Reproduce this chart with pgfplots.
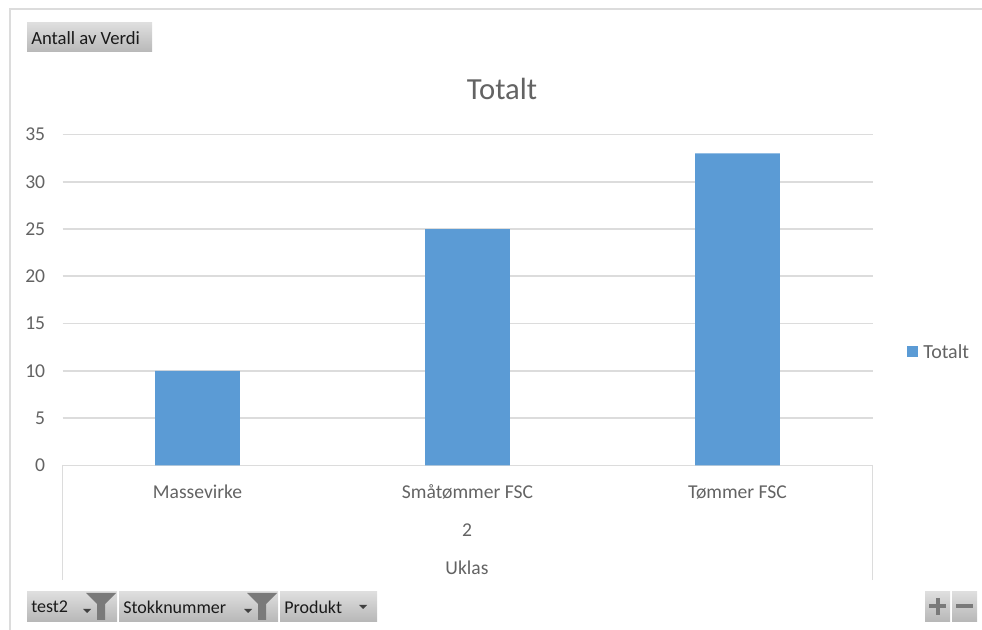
\documentclass[border=0pt]{standalone}
\usepackage{pgfplots}
\pgfplotsset{compat=1.18}
\usepackage{fontspec}
\setmainfont{Carlito}
\definecolor{barblue}{HTML}{5B9BD5}
\definecolor{gridc}{HTML}{DCDCDC}
\definecolor{txt}{HTML}{636363}
\definecolor{btnT}{HTML}{DEDEDE}
\definecolor{btnB}{HTML}{B8B8B8}
\definecolor{fun}{HTML}{7A7A7A}
\definecolor{btntxt}{HTML}{1A1A1A}
\newcommand{\btn}[4]{\path[top color=btnT,bottom color=btnB] (#1,#2) rectangle (#3,#4);}
\newcommand{\funnel}[2]{\fill[fun] (#1-15,#2-8) -- (#1+15,#2-8) -- (#1+4,#2+3) -- (#1+4,#2+19) -- (#1-4,#2+19) -- (#1-4,#2+3) -- cycle;}
\newcommand{\arrowd}[2]{\fill[black!75] (#1-4,#2-2) -- (#1+4,#2-2) -- (#1,#2+2) -- cycle;}
\newcommand{\tickfont}{\fontsize{14.7}{16}\selectfont}
\begin{document}
\begin{tikzpicture}
\begin{axis}[
  at={(46.9pt,-349.1pt)}, anchor=south west, scale only axis,
  width=607.5pt, height=248.25pt,
  xmin=-0.5, xmax=2.5, ymin=0, ymax=35,
  ytick={0,5,...,35},
  xtick={0,1,2},
  xticklabels={Massevirke,Småtømmer FSC,Tømmer FSC},
  ymajorgrids, major grid style={gridc,line width=1.3pt},
  axis line style={gridc,line width=1.3pt},
  axis y line*=left, axis x line*=bottom,
  y axis line style={draw=none},
  major tick length=0pt,
  tick style={draw=none},
  ybar, bar width=0.314,
  /pgf/number format/assume math mode=true,
  tick label style={font=\tickfont,text=txt},
  xticklabel style={anchor=base,yshift=-24.5pt},
  yticklabel style={xshift=-9.5pt},
]
\addplot[fill=barblue,draw=none] coordinates {(0,10) (1,25) (2,33)};
\end{axis}
\begin{scope}[x=0.75pt,y=-0.75pt]
\path[use as bounding box] (0,0) rectangle (982,630);
% frame
\draw[gridc,line width=1.5pt] (982,9.5) -- (9.5,9.5) -- (9.5,630);
% legend
\fill[barblue] (907,346) rectangle (918,357);
\node[anchor=west,inner sep=0pt,text=txt,font=\fontsize{15}{16}\selectfont] at (923,352) {Totalt};
% title
\node[text=txt,font=\fontsize{23}{26}\selectfont] at (502,89) {Totalt};
% multi-level axis
\draw[gridc,line width=1.3pt] (62.5,465) -- (62.5,580);
\draw[gridc,line width=1.3pt] (872.5,465) -- (872.5,580);
\node[text=txt,font=\tickfont] at (467,530) {2};
\node[text=txt,font=\tickfont] at (467,568) {Uklas};
% buttons
\btn{27}{23}{152}{52}
\node[anchor=west,inner sep=0pt,text=btntxt,font=\fontsize{14}{15}\selectfont] at (31,38) {Antall av Verdi};
\btn{27}{592}{117}{621}
\node[anchor=west,inner sep=0pt,text=btntxt,font=\fontsize{13.5}{15}\selectfont] at (31,607) {test2};
\arrowd{87}{611}
\funnel{101}{601}
\btn{119}{592}{278}{621}
\node[anchor=west,inner sep=0pt,text=btntxt,font=\fontsize{13.5}{15}\selectfont] at (123,607) {Stokknummer};
\arrowd{248}{611}
\funnel{262}{601}
\btn{280}{592}{377}{621}
\node[anchor=west,inner sep=0pt,text=btntxt,font=\fontsize{13.5}{15}\selectfont] at (284,607) {Produkt};
\arrowd{363}{607}
% zoom buttons
\btn{925}{592}{950}{621}
\btn{952}{592}{977}{621}
\fill[fun] (929,604.5) rectangle (946,608.5);
\fill[fun] (935.5,598) rectangle (939.5,615);
\fill[fun] (956,604.5) rectangle (973,608.5);
\end{scope}
\end{tikzpicture}
\end{document}
